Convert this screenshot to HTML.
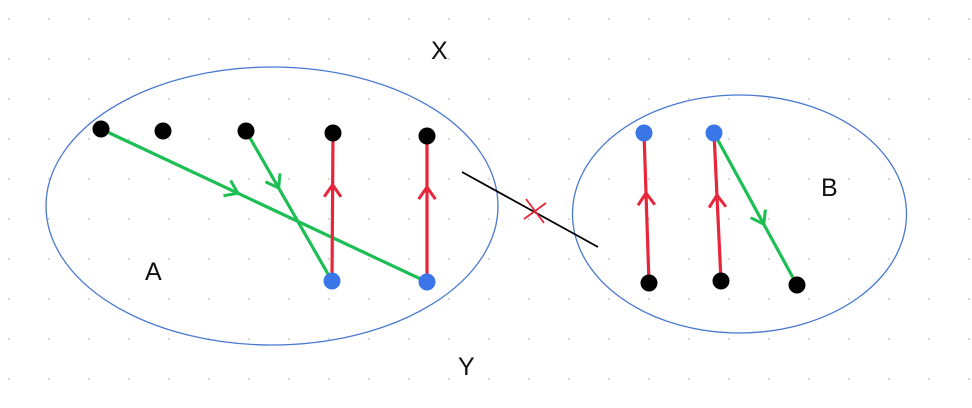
<!DOCTYPE html>
<html><head><meta charset="utf-8"><style>
html,body{margin:0;padding:0;background:#fff;}
svg{display:block;}
text{font-family:"Liberation Sans",sans-serif;font-size:25px;fill:#111;}
</style></head><body>
<svg id="s" width="972" height="408" viewBox="0 0 972 408" xmlns="http://www.w3.org/2000/svg">
<g id="grid"></g>
<ellipse cx="272" cy="206" rx="226" ry="139" fill="none" stroke="#4a78d0" stroke-width="1.3"/>
<ellipse cx="739.5" cy="214" rx="167" ry="119" fill="none" stroke="#4a78d0" stroke-width="1.3"/>
<line x1="462" y1="172" x2="598" y2="247" stroke="#000" stroke-width="1.8"/>
<g stroke="#e8253a" stroke-width="1.8">
<line x1="526" y1="199" x2="544" y2="223"/><line x1="524" y1="219" x2="546" y2="203"/></g>
<g id="arrows"></g>
<g id="pts"></g>
<text x="431" y="59">X</text>
<text x="821" y="196">B</text>
<text x="145" y="280">A</text>
<text x="458" y="375">Y</text>
</svg>
<script>
const NS="http://www.w3.org/2000/svg";
const g=document.getElementById('grid');
for(let x=9;x<972;x+=40)for(let y=19;y<408;y+=40){
 const c=document.createElementNS(NS,'circle');
 c.setAttribute('cx',x);c.setAttribute('cy',y);c.setAttribute('r',1.1);c.setAttribute('fill','#d4d4d4');
 
 
 g.appendChild(c);}
const arrows=[
 [101,129,427,282,0.42,'#1dbf55'],
 [246,131,332,281,0.38,'#1dbf55'],
 [714,133,797,285,0.6,'#1dbf55'],
 [332,281,333,133,0.65,'#e8253a'],
 [427,282,427,136,0.65,'#e8253a'],
 [649,283,644,133,0.6,'#e8253a'],
 [721,281,714,133,0.58,'#e8253a']];
const ag=document.getElementById('arrows');
arrows.forEach(a=>{
 const [x1,y1,x2,y2,t,col]=a;
 const l=document.createElementNS(NS,'line');
 l.setAttribute('x1',x1);l.setAttribute('y1',y1);l.setAttribute('x2',x2);l.setAttribute('y2',y2);
 l.setAttribute('stroke',col);l.setAttribute('stroke-width',3.2);
 
 
 ag.appendChild(l);
 const dx=x2-x1,dy=y2-y1,L=Math.hypot(dx,dy),ux=dx/L,uy=dy/L;
 const px=x1+dx*t,py=y1+dy*t,s=12;
 const bx=px-ux*s,by=py-uy*s,nx=-uy*s*0.7,ny=ux*s*0.7;
 const p=document.createElementNS(NS,'path');
 p.setAttribute('d',`M${bx+nx},${by+ny}L${px},${py}L${bx-nx},${by-ny}`);
 p.setAttribute('stroke',col);p.setAttribute('stroke-width',3);p.setAttribute('fill','none');
 
 
 ag.appendChild(p);});
const pts=[[101,129,'#000'],[163,131,'#000'],[246,131,'#000'],[333,133,'#000'],[427,136,'#000'],
 [332,281,'#3a76e8'],[427,282,'#3a76e8'],[644,133,'#3a76e8'],[714,133,'#3a76e8'],
 [649,283,'#000'],[721,281,'#000'],[797,285,'#000']];
const pg=document.getElementById('pts');
pts.forEach(p=>{
 const c=document.createElementNS(NS,'circle');
 c.setAttribute('cx',p[0]);c.setAttribute('cy',p[1]);c.setAttribute('r',8.5);c.setAttribute('fill',p[2]);
 
 
 pg.appendChild(c);});
</script>
</body></html>
